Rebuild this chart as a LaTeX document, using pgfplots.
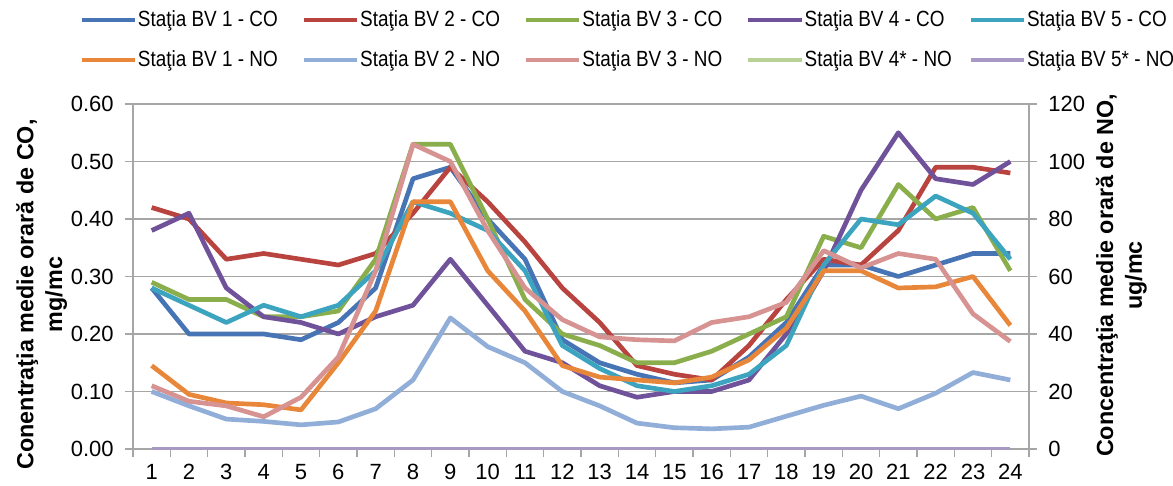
\documentclass[border=0pt]{standalone}
\usepackage{fontspec}
\setmainfont{Liberation Sans}
\newfontfamily\legfont[FakeStretch=0.86]{Liberation Sans}
\usepackage{pgfplots}
\pgfplotsset{compat=1.18}

\definecolor{coA}{HTML}{4674B4}
\definecolor{coB}{HTML}{B8433F}
\definecolor{coC}{HTML}{8AAE4C}
\definecolor{coD}{HTML}{70529A}
\definecolor{coE}{HTML}{3CA4BF}
\definecolor{noA}{HTML}{E8873A}
\definecolor{noB}{HTML}{91AED8}
\definecolor{noC}{HTML}{D69392}
\definecolor{noD}{HTML}{B8D295}
\definecolor{noE}{HTML}{A898C4}
\definecolor{gridc}{HTML}{A6A6A6}

\newcommand{\legtxt}[1]{\makebox[122.7pt][l]{\legfont\fontsize{16.5}{18}\selectfont #1}}

\pgfplotsset{
  common/.style={
    width=672pt, height=258.75pt, scale only axis,
    xmin=0.5, xmax=24.5,
    every axis plot/.append style={line width=3.5pt, line join=round, mark=none},
    tick label style={font=\fontsize{16.5}{18}\selectfont},
    /pgf/number format/assume math mode=true,
    axis line style={gridc, line width=1pt},
    tick style={gridc, line width=1pt},
    tick align=outside,
    major tick length=6pt,
  },
}

\begin{document}
\begin{tikzpicture}
\useasboundingbox (-99.75pt,-27pt) rectangle (780pt,336.75pt);

% axa CO (stanga)
\begin{axis}[common,
  ymin=0, ymax=0.6,
  ytick={0,0.1,0.2,0.3,0.4,0.5,0.6},
  yticklabel style={xshift=-5pt, /pgf/number format/.cd, fixed, fixed zerofill, precision=2},
  axis x line*=bottom, axis y line*=left,
  % ticks between hours, labels moved half a category to the right
  xtick={0.5,1.5,...,24.5},
  xticklabels={1,2,3,4,5,6,7,8,9,10,11,12,13,14,15,16,17,18,19,20,21,22,23,24,{}},
  xticklabel style={xshift=14pt, yshift=-4.5pt, inner sep=1pt, text depth=0pt},
  ymajorgrids, grid style={gridc, line width=1pt},
  ylabel={Conentraţia medie orară de CO,\\ mg/mc},
  ylabel style={at={(axis description cs:-0.102,0.448)}, anchor=center,
    font=\bfseries\fontsize{17.5}{21.5}\selectfont, align=center},
  legend columns=5,
  legend cell align=left,
  legend image code/.code={\draw[#1] (0pt,0pt) -- (40pt,0pt);},
  legend style={draw=none, fill=none, at={(0,1)}, anchor=north west,
    xshift=-40.5pt, yshift=70pt, inner sep=0pt, row sep=16.5pt,
    nodes={inner sep=0pt},
    /tikz/every odd column/.style={column sep=0.5pt},
    /tikz/every even column/.style={column sep=0pt}},
]
\addplot[coA] coordinates {(1,0.28)(2,0.20)(3,0.20)(4,0.20)(5,0.19)(6,0.22)(7,0.28)(8,0.47)(9,0.49)(10,0.40)(11,0.33)(12,0.19)(13,0.15)(14,0.13)(15,0.115)(16,0.12)(17,0.16)(18,0.22)(19,0.32)(20,0.32)(21,0.30)(22,0.32)(23,0.34)(24,0.34)};
\addlegendentry{\legtxt{Staţia BV 1 - CO}}
\addplot[coB] coordinates {(1,0.42)(2,0.40)(3,0.33)(4,0.34)(5,0.33)(6,0.32)(7,0.34)(8,0.41)(9,0.49)(10,0.43)(11,0.36)(12,0.28)(13,0.22)(14,0.145)(15,0.13)(16,0.12)(17,0.18)(18,0.26)(19,0.33)(20,0.32)(21,0.38)(22,0.49)(23,0.49)(24,0.48)};
\addlegendentry{\legtxt{Staţia BV 2 - CO}}
\addplot[coC] coordinates {(1,0.29)(2,0.26)(3,0.26)(4,0.23)(5,0.23)(6,0.24)(7,0.33)(8,0.53)(9,0.53)(10,0.40)(11,0.26)(12,0.20)(13,0.18)(14,0.15)(15,0.15)(16,0.17)(17,0.20)(18,0.23)(19,0.37)(20,0.35)(21,0.46)(22,0.40)(23,0.42)(24,0.31)};
\addlegendentry{\legtxt{Staţia BV 3 - CO}}
\addplot[coD] coordinates {(1,0.38)(2,0.41)(3,0.28)(4,0.23)(5,0.22)(6,0.20)(7,0.23)(8,0.25)(9,0.33)(10,0.25)(11,0.17)(12,0.15)(13,0.11)(14,0.09)(15,0.10)(16,0.10)(17,0.12)(18,0.20)(19,0.31)(20,0.45)(21,0.55)(22,0.47)(23,0.46)(24,0.50)};
\addlegendentry{\legtxt{Staţia BV 4 - CO}}
\addplot[coE] coordinates {(1,0.28)(2,0.25)(3,0.22)(4,0.25)(5,0.23)(6,0.25)(7,0.31)(8,0.43)(9,0.41)(10,0.38)(11,0.31)(12,0.18)(13,0.14)(14,0.11)(15,0.10)(16,0.11)(17,0.13)(18,0.18)(19,0.32)(20,0.40)(21,0.39)(22,0.44)(23,0.41)(24,0.33)};
\addlegendentry{\legtxt{Staţia BV 5 - CO}}
\addlegendimage{noA}
\addlegendentry{\legtxt{Staţia BV 1 - NO}}
\addlegendimage{noB}
\addlegendentry{\legtxt{Staţia BV 2 - NO}}
\addlegendimage{noC}
\addlegendentry{\legtxt{Staţia BV 3 - NO}}
\addlegendimage{noD}
\addlegendentry{\legtxt{Staţia BV 4* - NO}}
\addlegendimage{noE}
\addlegendentry{\legtxt{Staţia BV 5* - NO}}
\end{axis}

% axa NO (dreapta)
\begin{axis}[common,
  ymin=0, ymax=120,
  ytick={0,20,40,60,80,100,120},
  yticklabel style={xshift=5pt},
  axis x line=none, axis y line*=right,
  ylabel={Concentraţia medie orară de NO,\\ ug/mc},
  ylabel style={at={(axis description cs:1.1032,0.503)}, anchor=center,
    font=\bfseries\fontsize{17.5}{21.5}\selectfont, align=center},
]
\addplot[noA] coordinates {(1,29)(2,19)(3,16)(4,15.4)(5,13.6)(6,30)(7,48)(8,86)(9,86)(10,62)(11,48)(12,29)(13,25)(14,24)(15,23)(16,25)(17,31)(18,42)(19,62)(20,62)(21,56)(22,56.4)(23,60)(24,43)};
\addplot[noB] coordinates {(1,20)(2,15)(3,10.4)(4,9.6)(5,8.4)(6,9.4)(7,14)(8,24)(9,45.6)(10,35.6)(11,30)(12,20)(13,15)(14,9)(15,7.4)(16,7)(17,7.6)(18,11.4)(19,15.2)(20,18.4)(21,14)(22,19.4)(23,26.6)(24,24)};
\addplot[noC] coordinates {(1,22)(2,16.6)(3,15)(4,11.2)(5,18)(6,32)(7,62)(8,106)(9,100)(10,76)(11,56)(12,45)(13,39)(14,38)(15,37.6)(16,44)(17,46)(18,51)(19,69)(20,63)(21,68)(22,66)(23,47)(24,37.4)};
\addplot[noD] coordinates {(1,0)(2,0)(3,0)(4,0)(5,0)(6,0)(7,0)(8,0)(9,0)(10,0)(11,0)(12,0)(13,0)(14,0)(15,0)(16,0)(17,0)(18,0)(19,0)(20,0)(21,0)(22,0)(23,0)(24,0)};
\addplot[noE] coordinates {(1,0)(2,0)(3,0)(4,0)(5,0)(6,0)(7,0)(8,0)(9,0)(10,0)(11,0)(12,0)(13,0)(14,0)(15,0)(16,0)(17,0)(18,0)(19,0)(20,0)(21,0)(22,0)(23,0)(24,0)};
\end{axis}
\end{tikzpicture}
\end{document}
